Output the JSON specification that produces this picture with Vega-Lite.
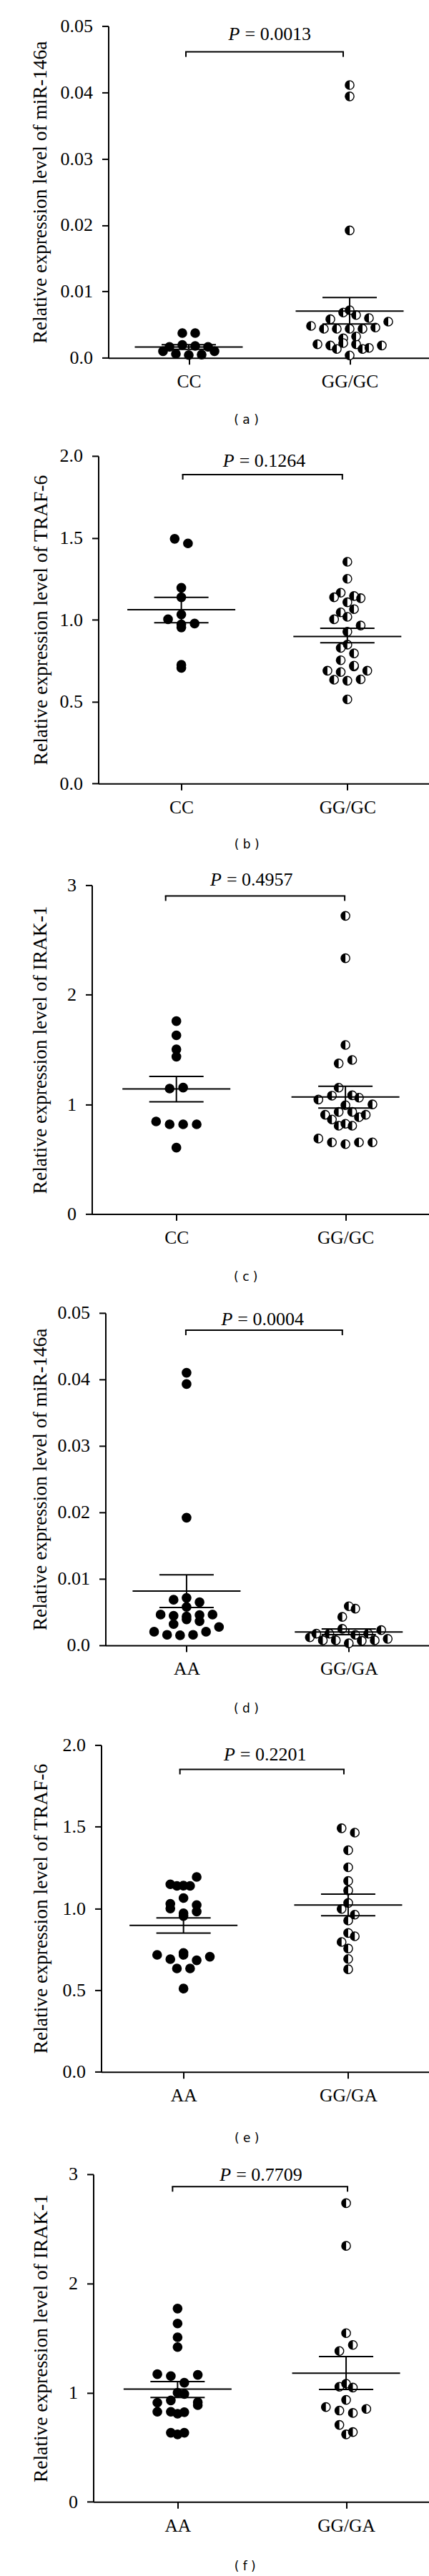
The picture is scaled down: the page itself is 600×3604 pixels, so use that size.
{
  "$schema": "https://vega.github.io/schema/vega-lite/v6.json",
  "background": "white",
  "padding": {"left": 21.5, "top": 23.4, "right": 5, "bottom": 2},
  "spacing": 28.5,
  "datasets": {
    "points": [
      {"panel":"a","genotype":"CC","value":0.00166},{"panel":"a","genotype":"CC","value":0.00100},{"panel":"a","genotype":"CC","value":0.00374},{"panel":"a","genotype":"CC","value":0.00061},{"panel":"a","genotype":"CC","value":0.00194},{"panel":"a","genotype":"CC","value":0.00374},{"panel":"a","genotype":"CC","value":0.00043},{"panel":"a","genotype":"CC","value":0.00180},{"panel":"a","genotype":"CC","value":0.00050},{"panel":"a","genotype":"CC","value":0.00100},{"panel":"a","genotype":"CC","value":0.00166},
      {"panel":"a","genotype":"GG/GC","value":0.00582},{"panel":"a","genotype":"GG/GC","value":0.00205},{"panel":"a","genotype":"GG/GC","value":0.00481},{"panel":"a","genotype":"GG/GC","value":0.00438},{"panel":"a","genotype":"GG/GC","value":0.00187},{"panel":"a","genotype":"GG/GC","value":0.0411},{"panel":"a","genotype":"GG/GC","value":0.00683},{"panel":"a","genotype":"GG/GC","value":0.00438},{"panel":"a","genotype":"GG/GC","value":0.00295},{"panel":"a","genotype":"GG/GC","value":0.00134},{"panel":"a","genotype":"GG/GC","value":0.0394},{"panel":"a","genotype":"GG/GC","value":0.0192},{"panel":"a","genotype":"GG/GC","value":0.00646},{"panel":"a","genotype":"GG/GC","value":0.00438},{"panel":"a","genotype":"GG/GC","value":0.00223},{"panel":"a","genotype":"GG/GC","value":0.00037},{"panel":"a","genotype":"GG/GC","value":0.00600},{"panel":"a","genotype":"GG/GC","value":0.00205},{"panel":"a","genotype":"GG/GC","value":0.00718},{"panel":"a","genotype":"GG/GC","value":0.00438},{"panel":"a","genotype":"GG/GC","value":0.00323},{"panel":"a","genotype":"GG/GC","value":0.00150},{"panel":"a","genotype":"GG/GC","value":0.00457},{"panel":"a","genotype":"GG/GC","value":0.00134},{"panel":"a","genotype":"GG/GC","value":0.00546},{"panel":"a","genotype":"GG/GC","value":0.00187},
      {"panel":"b","genotype":"CC","value":1.003},{"panel":"b","genotype":"CC","value":1.494},{"panel":"b","genotype":"CC","value":0.972},{"panel":"b","genotype":"CC","value":1.466},{"panel":"b","genotype":"CC","value":1.137},{"panel":"b","genotype":"CC","value":0.953},{"panel":"b","genotype":"CC","value":0.706},{"panel":"b","genotype":"CC","value":1.195},{"panel":"b","genotype":"CC","value":0.977},{"panel":"b","genotype":"CC","value":0.725},{"panel":"b","genotype":"CC","value":1.032},
      {"panel":"b","genotype":"GG/GC","value":0.689},{"panel":"b","genotype":"GG/GC","value":1.165},{"panel":"b","genotype":"GG/GC","value":0.681},{"panel":"b","genotype":"GG/GC","value":1.137},{"panel":"b","genotype":"GG/GC","value":1.045},{"panel":"b","genotype":"GG/GC","value":1.003},{"panel":"b","genotype":"GG/GC","value":0.848},{"panel":"b","genotype":"GG/GC","value":0.753},{"panel":"b","genotype":"GG/GC","value":0.634},{"panel":"b","genotype":"GG/GC","value":1.354},{"panel":"b","genotype":"GG/GC","value":1.250},{"panel":"b","genotype":"GG/GC","value":1.107},{"panel":"b","genotype":"GG/GC","value":1.018},{"panel":"b","genotype":"GG/GC","value":0.927},{"panel":"b","genotype":"GG/GC","value":0.828},{"panel":"b","genotype":"GG/GC","value":0.715},{"panel":"b","genotype":"GG/GC","value":0.628},{"panel":"b","genotype":"GG/GC","value":0.514},{"panel":"b","genotype":"GG/GC","value":1.132},{"panel":"b","genotype":"GG/GC","value":1.065},{"panel":"b","genotype":"GG/GC","value":0.965},{"panel":"b","genotype":"GG/GC","value":0.720},{"panel":"b","genotype":"GG/GC","value":0.636},{"panel":"b","genotype":"GG/GC","value":1.145},{"panel":"b","genotype":"GG/GC","value":0.795},{"panel":"b","genotype":"GG/GC","value":0.689},
      {"panel":"c","genotype":"CC","value":0.844},{"panel":"c","genotype":"CC","value":1.502},{"panel":"c","genotype":"CC","value":0.818},{"panel":"c","genotype":"CC","value":1.759},{"panel":"c","genotype":"CC","value":1.630},{"panel":"c","genotype":"CC","value":1.435},{"panel":"c","genotype":"CC","value":1.144},{"panel":"c","genotype":"CC","value":0.818},{"panel":"c","genotype":"CC","value":0.605},{"panel":"c","genotype":"CC","value":1.153},{"panel":"c","genotype":"CC","value":0.818},
      {"panel":"c","genotype":"GG/GC","value":0.905},{"panel":"c","genotype":"GG/GC","value":1.152},{"panel":"c","genotype":"GG/GC","value":1.044},{"panel":"c","genotype":"GG/GC","value":0.862},{"panel":"c","genotype":"GG/GC","value":0.688},{"panel":"c","genotype":"GG/GC","value":1.079},{"panel":"c","genotype":"GG/GC","value":0.992},{"panel":"c","genotype":"GG/GC","value":0.805},{"panel":"c","genotype":"GG/GC","value":0.653},{"panel":"c","genotype":"GG/GC","value":2.720},{"panel":"c","genotype":"GG/GC","value":2.333},{"panel":"c","genotype":"GG/GC","value":1.542},{"panel":"c","genotype":"GG/GC","value":1.373},{"panel":"c","genotype":"GG/GC","value":1.061},{"panel":"c","genotype":"GG/GC","value":0.931},{"panel":"c","genotype":"GG/GC","value":0.805},{"panel":"c","genotype":"GG/GC","value":0.637},{"panel":"c","genotype":"GG/GC","value":1.405},{"panel":"c","genotype":"GG/GC","value":1.083},{"panel":"c","genotype":"GG/GC","value":0.931},{"panel":"c","genotype":"GG/GC","value":0.823},{"panel":"c","genotype":"GG/GC","value":0.653},{"panel":"c","genotype":"GG/GC","value":1.000},{"panel":"c","genotype":"GG/GC","value":0.883},{"panel":"c","genotype":"GG/GC","value":0.653},{"panel":"c","genotype":"GG/GC","value":0.905},
      {"panel":"d","genotype":"AA","value":0.00462},{"panel":"d","genotype":"AA","value":0.00319},{"panel":"d","genotype":"AA","value":0.00444},{"panel":"d","genotype":"AA","value":0.00204},{"panel":"d","genotype":"AA","value":0.00685},{"panel":"d","genotype":"AA","value":0.00390},{"panel":"d","genotype":"AA","value":0.00158},{"panel":"d","genotype":"AA","value":0.0393},{"panel":"d","genotype":"AA","value":0.0192},{"panel":"d","genotype":"AA","value":0.00577},{"panel":"d","genotype":"AA","value":0.00362},{"panel":"d","genotype":"AA","value":0.00150},{"panel":"d","genotype":"AA","value":0.0410},{"panel":"d","genotype":"AA","value":0.00648},{"panel":"d","genotype":"AA","value":0.00433},{"panel":"d","genotype":"AA","value":0.00158},{"panel":"d","genotype":"AA","value":0.00713},{"panel":"d","genotype":"AA","value":0.00455},{"panel":"d","genotype":"AA","value":0.00204},{"panel":"d","genotype":"AA","value":0.00462},{"panel":"d","genotype":"AA","value":0.00276},
      {"panel":"d","genotype":"GG/GA","value":0.00120},{"panel":"d","genotype":"GG/GA","value":0.00175},{"panel":"d","genotype":"GG/GA","value":0.00075},{"panel":"d","genotype":"GG/GA","value":0.00427},{"panel":"d","genotype":"GG/GA","value":0.00175},{"panel":"d","genotype":"GG/GA","value":0.00075},{"panel":"d","genotype":"GG/GA","value":0.00552},{"panel":"d","genotype":"GG/GA","value":0.00247},{"panel":"d","genotype":"GG/GA","value":0.00158},{"panel":"d","genotype":"GG/GA","value":0.00030},{"panel":"d","genotype":"GG/GA","value":0.00588},{"panel":"d","genotype":"GG/GA","value":0.00175},{"panel":"d","genotype":"GG/GA","value":0.00068},{"panel":"d","genotype":"GG/GA","value":0.00075},{"panel":"d","genotype":"GG/GA","value":0.00229},{"panel":"d","genotype":"GG/GA","value":0.00097},
      {"panel":"e","genotype":"AA","value":1.029},{"panel":"e","genotype":"AA","value":0.716},{"panel":"e","genotype":"AA","value":1.148},{"panel":"e","genotype":"AA","value":1.000},{"panel":"e","genotype":"AA","value":0.690},{"panel":"e","genotype":"AA","value":1.140},{"panel":"e","genotype":"AA","value":0.971},{"panel":"e","genotype":"AA","value":0.633},{"panel":"e","genotype":"AA","value":1.193},{"panel":"e","genotype":"AA","value":1.064},{"panel":"e","genotype":"AA","value":0.954},{"panel":"e","genotype":"AA","value":0.716},{"panel":"e","genotype":"AA","value":0.633},{"panel":"e","genotype":"AA","value":0.510},{"panel":"e","genotype":"AA","value":1.138},{"panel":"e","genotype":"AA","value":0.981},{"panel":"e","genotype":"AA","value":0.728},{"panel":"e","genotype":"AA","value":0.683},{"panel":"e","genotype":"AA","value":1.138},{"panel":"e","genotype":"AA","value":1.021},{"panel":"e","genotype":"AA","value":0.705},
      {"panel":"e","genotype":"GG/GA","value":1.491},{"panel":"e","genotype":"GG/GA","value":0.997},{"panel":"e","genotype":"GG/GA","value":0.795},{"panel":"e","genotype":"GG/GA","value":1.464},{"panel":"e","genotype":"GG/GA","value":1.356},{"panel":"e","genotype":"GG/GA","value":1.252},{"panel":"e","genotype":"GG/GA","value":1.110},{"panel":"e","genotype":"GG/GA","value":0.962},{"panel":"e","genotype":"GG/GA","value":0.850},{"panel":"e","genotype":"GG/GA","value":0.755},{"panel":"e","genotype":"GG/GA","value":0.628},{"panel":"e","genotype":"GG/GA","value":1.168},{"panel":"e","genotype":"GG/GA","value":1.034},{"panel":"e","genotype":"GG/GA","value":0.926},{"panel":"e","genotype":"GG/GA","value":0.830},{"panel":"e","genotype":"GG/GA","value":0.691},
      {"panel":"f","genotype":"AA","value":0.908},{"panel":"f","genotype":"AA","value":1.169},{"panel":"f","genotype":"AA","value":0.825},{"panel":"f","genotype":"AA","value":1.152},{"panel":"f","genotype":"AA","value":0.999},{"panel":"f","genotype":"AA","value":0.825},{"panel":"f","genotype":"AA","value":0.633},{"panel":"f","genotype":"AA","value":1.770},{"panel":"f","genotype":"AA","value":1.633},{"panel":"f","genotype":"AA","value":1.417},{"panel":"f","genotype":"AA","value":1.091},{"panel":"f","genotype":"AA","value":0.929},{"panel":"f","genotype":"AA","value":0.807},{"panel":"f","genotype":"AA","value":0.618},{"panel":"f","genotype":"AA","value":1.507},{"panel":"f","genotype":"AA","value":1.163},{"panel":"f","genotype":"AA","value":0.988},{"panel":"f","genotype":"AA","value":0.821},{"panel":"f","genotype":"AA","value":0.633},{"panel":"f","genotype":"AA","value":0.886},{"panel":"f","genotype":"AA","value":0.912},
      {"panel":"f","genotype":"GG/GA","value":0.868},{"panel":"f","genotype":"GG/GA","value":1.054},{"panel":"f","genotype":"GG/GA","value":0.836},{"panel":"f","genotype":"GG/GA","value":0.705},{"panel":"f","genotype":"GG/GA","value":2.735},{"panel":"f","genotype":"GG/GA","value":2.344},{"panel":"f","genotype":"GG/GA","value":1.545},{"panel":"f","genotype":"GG/GA","value":1.381},{"panel":"f","genotype":"GG/GA","value":1.082},{"panel":"f","genotype":"GG/GA","value":0.934},{"panel":"f","genotype":"GG/GA","value":0.814},{"panel":"f","genotype":"GG/GA","value":0.618},{"panel":"f","genotype":"GG/GA","value":1.437},{"panel":"f","genotype":"GG/GA","value":1.047},{"panel":"f","genotype":"GG/GA","value":0.851},{"panel":"f","genotype":"GG/GA","value":0.639}
    ],
    "stats": [
      {"panel":"a","genotype":"CC","mean":0.00165,"lo":0.0013,"hi":0.0020},
      {"panel":"a","genotype":"GG/GC","mean":0.00705,"lo":0.0051,"hi":0.0091},
      {"panel":"b","genotype":"CC","mean":1.062,"lo":0.982,"hi":1.137},
      {"panel":"b","genotype":"GG/GC","mean":0.898,"lo":0.86,"hi":0.948},
      {"panel":"c","genotype":"CC","mean":1.140,"lo":1.023,"hi":1.255},
      {"panel":"c","genotype":"GG/GC","mean":1.068,"lo":0.966,"hi":1.165},
      {"panel":"d","genotype":"AA","mean":0.00815,"lo":0.00568,"hi":0.0106},
      {"panel":"d","genotype":"GG/GA","mean":0.00201,"lo":0.0016,"hi":0.00245},
      {"panel":"e","genotype":"AA","mean":0.897,"lo":0.85,"hi":0.942},
      {"panel":"e","genotype":"GG/GA","mean":1.021,"lo":0.956,"hi":1.088},
      {"panel":"f","genotype":"AA","mean":1.032,"lo":0.955,"hi":1.102},
      {"panel":"f","genotype":"GG/GA","mean":1.178,"lo":1.029,"hi":1.331}
    ],
    "tests": [
      {"panel":"a","p":"0.0013","level":0.0461},
      {"panel":"b","p":"0.1264","level":1.886},
      {"panel":"c","p":"0.4957","level":2.902},
      {"panel":"d","p":"0.0004","level":0.0474},
      {"panel":"e","p":"0.2201","level":1.851},
      {"panel":"f","p":"0.7709","level":2.886}
    ]
  },
  "vconcat": [
    {"spacing": 20, "hconcat": [
    {"width": 1, "height": 1, "data": {"values": []}, "mark": "point", "encoding": {}},
    {
      "width": 450, "height": 464.3,
      "title": {"text": "( a )", "orient": "bottom", "anchor": "start", "frame": "bounds", "dx": 284.5, "offset": 32.6},
      "layer": [
        {
          "data": {"name": "points"},
          "transform": [
            {"filter": "datum.panel === 'a'"},
            {"calculate": "datum.genotype === 'CC' || datum.genotype === 'AA' ? 1 : 2", "as": "group"},
            {"bin": {"step": 0.0014, "anchor": 0}, "field": "value", "as": "row"},
            {"window": [{"op": "row_number", "as": "slot"}, {"op": "count", "as": "n"}], "groupby": ["group", "row"], "frame": [null, null]},
            {"calculate": "datum.group + (datum.slot - (datum.n + 1) / 2) * 0.08", "as": "pos"}
          ],
          "encoding": {
            "x": {"field": "pos", "type": "quantitative", "scale": {"domain": [0.5, 2.5], "nice": false, "zero": false}, "axis": {"values": [1, 2], "labelExpr": "datum.value === 1 ? 'CC' : 'GG/GC'", "title": null}},
            "y": {"field": "value", "type": "quantitative", "scale": {"domain": [0, 0.05], "nice": false}, "axis": {"values": [0, 0.01, 0.02, 0.03, 0.04, 0.05], "labelExpr": "datum.value === 0 ? '0.0' : format(datum.value, '.2f')", "title": "Relative expression level of miR-146a", "titlePadding": 13.2}}
          },
          "layer": [
            {"mark": {"type": "circle", "size": 150, "stroke": "black", "strokeWidth": 1.4, "opacity": 1}, "encoding": {"fill": {"condition": {"test": "datum.group === 1", "value": "black"}, "value": "white"}}},
            {"transform": [{"filter": "datum.group === 2"}], "mark": {"type": "point", "shape": "M0,-1A1,1,0,0,0,0,1Z", "filled": true, "color": "black", "size": 150, "strokeWidth": 0, "opacity": 1}, "encoding": {}}
          ]
        },
        {
          "data": {"name": "stats"},
          "transform": [{"filter": "datum.panel === 'a'"}, {"calculate": "datum.genotype === 'CC' || datum.genotype === 'AA' ? 1 : 2", "as": "group"}],
          "layer": [
            {"mark": {"type": "tick", "orient": "horizontal", "size": 151, "thickness": 2, "color": "black", "opacity": 1}, "encoding": {"x": {"field": "group", "type": "quantitative", "scale": {"domain": [0.5, 2.5], "nice": false, "zero": false}}, "y": {"field": "mean", "type": "quantitative", "scale": {"domain": [0, 0.05], "nice": false}}}},
            {"mark": {"type": "tick", "orient": "horizontal", "size": 76, "thickness": 2, "color": "black", "opacity": 1}, "encoding": {"x": {"field": "group", "type": "quantitative", "scale": {"domain": [0.5, 2.5], "nice": false, "zero": false}}, "y": {"field": "hi", "type": "quantitative", "scale": {"domain": [0, 0.05], "nice": false}}}},
            {"mark": {"type": "tick", "orient": "horizontal", "size": 76, "thickness": 2, "color": "black", "opacity": 1}, "encoding": {"x": {"field": "group", "type": "quantitative", "scale": {"domain": [0.5, 2.5], "nice": false, "zero": false}}, "y": {"field": "lo", "type": "quantitative", "scale": {"domain": [0, 0.05], "nice": false}}}},
            {"mark": {"type": "rule", "strokeWidth": 2, "color": "black"}, "encoding": {"x": {"field": "group", "type": "quantitative", "scale": {"domain": [0.5, 2.5], "nice": false, "zero": false}}, "y": {"field": "lo", "type": "quantitative", "scale": {"domain": [0, 0.05], "nice": false}}, "y2": {"field": "hi"}}}
          ]
        },
        {
          "data": {"name": "tests"},
          "transform": [{"filter": "datum.panel === 'a'"}, {"calculate": "'= ' + datum.p", "as": "label"}],
          "encoding": {"y": {"field": "level", "type": "quantitative", "scale": {"domain": [0, 0.05], "nice": false}}},
          "layer": [
            {"mark": {"type": "rule", "strokeWidth": 2, "color": "black", "strokeCap": "square", "xOffset": -4, "x2Offset": -9}, "encoding": {"x": {"datum": 1, "type": "quantitative", "scale": {"domain": [0.5, 2.5], "nice": false, "zero": false}}, "x2": {"datum": 2}}},
            {"mark": {"type": "rule", "strokeWidth": 2, "color": "black", "xOffset": -4, "y2Offset": 7}, "encoding": {"x": {"datum": 1, "type": "quantitative", "scale": {"domain": [0.5, 2.5], "nice": false, "zero": false}}, "y2": {"field": "level"}}},
            {"mark": {"type": "rule", "strokeWidth": 2, "color": "black", "xOffset": -9, "y2Offset": 7}, "encoding": {"x": {"datum": 2, "type": "quantitative", "scale": {"domain": [0.5, 2.5], "nice": false, "zero": false}}, "y2": {"field": "level"}}},
            {"mark": {"type": "text", "text": "P", "font": "Liberation Serif", "fontStyle": "italic", "fontSize": 26, "color": "black", "align": "right", "baseline": "alphabetic", "dx": -41, "dy": -17}, "encoding": {"x": {"datum": 1.5, "type": "quantitative", "scale": {"domain": [0.5, 2.5], "nice": false, "zero": false}}}},
            {"mark": {"type": "text", "font": "Liberation Serif", "fontSize": 26, "color": "black", "align": "left", "baseline": "alphabetic", "dx": -34, "dy": -17}, "encoding": {"x": {"datum": 1.5, "type": "quantitative", "scale": {"domain": [0.5, 2.5], "nice": false, "zero": false}}, "text": {"field": "label"}}}
          ]
        }
      ]
    }]},
    {"spacing": 20, "hconcat": [
    {"width": 1, "height": 1, "data": {"values": []}, "mark": "point", "encoding": {}},
    {
      "width": 464.4, "height": 458.4,
      "title": {"text": "( b )", "orient": "bottom", "anchor": "start", "frame": "bounds", "dx": 284.5, "offset": 30.9},
      "layer": [
        {
          "data": {"name": "points"},
          "transform": [
            {"filter": "datum.panel === 'b'"},
            {"calculate": "datum.genotype === 'CC' || datum.genotype === 'AA' ? 1 : 2", "as": "group"},
            {"bin": {"step": 0.06, "anchor": 0}, "field": "value", "as": "row"},
            {"window": [{"op": "row_number", "as": "slot"}, {"op": "count", "as": "n"}], "groupby": ["group", "row"], "frame": [null, null]},
            {"calculate": "datum.group + (datum.slot - (datum.n + 1) / 2) * 0.08", "as": "pos"}
          ],
          "encoding": {
            "x": {"field": "pos", "type": "quantitative", "scale": {"domain": [0.5, 2.5], "nice": false, "zero": false}, "axis": {"values": [1, 2], "labelExpr": "datum.value === 1 ? 'CC' : 'GG/GC'", "title": null}},
            "y": {"field": "value", "type": "quantitative", "scale": {"domain": [0, 2], "nice": false}, "axis": {"values": [0, 0.5, 1, 1.5, 2], "labelExpr": "format(datum.value, '.1f')", "title": "Relative expression level of TRAF-6", "titlePadding": 11.8}}
          },
          "layer": [
            {"mark": {"type": "circle", "size": 150, "stroke": "black", "strokeWidth": 1.4, "opacity": 1}, "encoding": {"fill": {"condition": {"test": "datum.group === 1", "value": "black"}, "value": "white"}}},
            {"transform": [{"filter": "datum.group === 2"}], "mark": {"type": "point", "shape": "M0,-1A1,1,0,0,0,0,1Z", "filled": true, "color": "black", "size": 150, "strokeWidth": 0, "opacity": 1}, "encoding": {}}
          ]
        },
        {
          "data": {"name": "stats"},
          "transform": [{"filter": "datum.panel === 'b'"}, {"calculate": "datum.genotype === 'CC' || datum.genotype === 'AA' ? 1 : 2", "as": "group"}],
          "layer": [
            {"mark": {"type": "tick", "orient": "horizontal", "size": 151, "thickness": 2, "color": "black", "opacity": 1}, "encoding": {"x": {"field": "group", "type": "quantitative", "scale": {"domain": [0.5, 2.5], "nice": false, "zero": false}}, "y": {"field": "mean", "type": "quantitative", "scale": {"domain": [0, 2], "nice": false}}}},
            {"mark": {"type": "tick", "orient": "horizontal", "size": 76, "thickness": 2, "color": "black", "opacity": 1}, "encoding": {"x": {"field": "group", "type": "quantitative", "scale": {"domain": [0.5, 2.5], "nice": false, "zero": false}}, "y": {"field": "hi", "type": "quantitative", "scale": {"domain": [0, 2], "nice": false}}}},
            {"mark": {"type": "tick", "orient": "horizontal", "size": 76, "thickness": 2, "color": "black", "opacity": 1}, "encoding": {"x": {"field": "group", "type": "quantitative", "scale": {"domain": [0.5, 2.5], "nice": false, "zero": false}}, "y": {"field": "lo", "type": "quantitative", "scale": {"domain": [0, 2], "nice": false}}}},
            {"mark": {"type": "rule", "strokeWidth": 2, "color": "black"}, "encoding": {"x": {"field": "group", "type": "quantitative", "scale": {"domain": [0.5, 2.5], "nice": false, "zero": false}}, "y": {"field": "lo", "type": "quantitative", "scale": {"domain": [0, 2], "nice": false}}, "y2": {"field": "hi"}}}
          ]
        },
        {
          "data": {"name": "tests"},
          "transform": [{"filter": "datum.panel === 'b'"}, {"calculate": "'= ' + datum.p", "as": "label"}],
          "encoding": {"y": {"field": "level", "type": "quantitative", "scale": {"domain": [0, 2], "nice": false}}},
          "layer": [
            {"mark": {"type": "rule", "strokeWidth": 2, "color": "black", "strokeCap": "square", "xOffset": 2, "x2Offset": -7}, "encoding": {"x": {"datum": 1, "type": "quantitative", "scale": {"domain": [0.5, 2.5], "nice": false, "zero": false}}, "x2": {"datum": 2}}},
            {"mark": {"type": "rule", "strokeWidth": 2, "color": "black", "xOffset": 2, "y2Offset": 7}, "encoding": {"x": {"datum": 1, "type": "quantitative", "scale": {"domain": [0.5, 2.5], "nice": false, "zero": false}}, "y2": {"field": "level"}}},
            {"mark": {"type": "rule", "strokeWidth": 2, "color": "black", "xOffset": -7, "y2Offset": 7}, "encoding": {"x": {"datum": 2, "type": "quantitative", "scale": {"domain": [0.5, 2.5], "nice": false, "zero": false}}, "y2": {"field": "level"}}},
            {"mark": {"type": "text", "text": "P", "font": "Liberation Serif", "fontStyle": "italic", "fontSize": 26, "color": "black", "align": "right", "baseline": "alphabetic", "dx": -42, "dy": -11}, "encoding": {"x": {"datum": 1.5, "type": "quantitative", "scale": {"domain": [0.5, 2.5], "nice": false, "zero": false}}}},
            {"mark": {"type": "text", "font": "Liberation Serif", "fontSize": 26, "color": "black", "align": "left", "baseline": "alphabetic", "dx": -35, "dy": -11}, "encoding": {"x": {"datum": 1.5, "type": "quantitative", "scale": {"domain": [0.5, 2.5], "nice": false, "zero": false}}, "text": {"field": "label"}}}
          ]
        }
      ]
    }]},
    {"spacing": 20, "hconcat": [
    {"width": 1, "height": 1, "data": {"values": []}, "mark": "point", "encoding": {}},
    {
      "width": 472.8, "height": 460,
      "title": {"text": "( c )", "orient": "bottom", "anchor": "start", "frame": "bounds", "dx": 284.5, "offset": 33.9},
      "layer": [
        {
          "data": {"name": "points"},
          "transform": [
            {"filter": "datum.panel === 'c'"},
            {"calculate": "datum.genotype === 'CC' || datum.genotype === 'AA' ? 1 : 2", "as": "group"},
            {"bin": {"step": 0.09, "anchor": 0}, "field": "value", "as": "row"},
            {"window": [{"op": "row_number", "as": "slot"}, {"op": "count", "as": "n"}], "groupby": ["group", "row"], "frame": [null, null]},
            {"calculate": "datum.group + (datum.slot - (datum.n + 1) / 2) * 0.08", "as": "pos"}
          ],
          "encoding": {
            "x": {"field": "pos", "type": "quantitative", "scale": {"domain": [0.5, 2.5], "nice": false, "zero": false}, "axis": {"values": [1, 2], "labelExpr": "datum.value === 1 ? 'CC' : 'GG/GC'", "title": null}},
            "y": {"field": "value", "type": "quantitative", "scale": {"domain": [0, 3], "nice": false}, "axis": {"values": [0, 1, 2, 3], "labelExpr": "format(datum.value, 'd')", "title": "Relative expression level of IRAK-1", "titlePadding": 22.9}}
          },
          "layer": [
            {"mark": {"type": "circle", "size": 150, "stroke": "black", "strokeWidth": 1.4, "opacity": 1}, "encoding": {"fill": {"condition": {"test": "datum.group === 1", "value": "black"}, "value": "white"}}},
            {"transform": [{"filter": "datum.group === 2"}], "mark": {"type": "point", "shape": "M0,-1A1,1,0,0,0,0,1Z", "filled": true, "color": "black", "size": 150, "strokeWidth": 0, "opacity": 1}, "encoding": {}}
          ]
        },
        {
          "data": {"name": "stats"},
          "transform": [{"filter": "datum.panel === 'c'"}, {"calculate": "datum.genotype === 'CC' || datum.genotype === 'AA' ? 1 : 2", "as": "group"}],
          "layer": [
            {"mark": {"type": "tick", "orient": "horizontal", "size": 151, "thickness": 2, "color": "black", "opacity": 1}, "encoding": {"x": {"field": "group", "type": "quantitative", "scale": {"domain": [0.5, 2.5], "nice": false, "zero": false}}, "y": {"field": "mean", "type": "quantitative", "scale": {"domain": [0, 3], "nice": false}}}},
            {"mark": {"type": "tick", "orient": "horizontal", "size": 76, "thickness": 2, "color": "black", "opacity": 1}, "encoding": {"x": {"field": "group", "type": "quantitative", "scale": {"domain": [0.5, 2.5], "nice": false, "zero": false}}, "y": {"field": "hi", "type": "quantitative", "scale": {"domain": [0, 3], "nice": false}}}},
            {"mark": {"type": "tick", "orient": "horizontal", "size": 76, "thickness": 2, "color": "black", "opacity": 1}, "encoding": {"x": {"field": "group", "type": "quantitative", "scale": {"domain": [0.5, 2.5], "nice": false, "zero": false}}, "y": {"field": "lo", "type": "quantitative", "scale": {"domain": [0, 3], "nice": false}}}},
            {"mark": {"type": "rule", "strokeWidth": 2, "color": "black"}, "encoding": {"x": {"field": "group", "type": "quantitative", "scale": {"domain": [0.5, 2.5], "nice": false, "zero": false}}, "y": {"field": "lo", "type": "quantitative", "scale": {"domain": [0, 3], "nice": false}}, "y2": {"field": "hi"}}}
          ]
        },
        {
          "data": {"name": "tests"},
          "transform": [{"filter": "datum.panel === 'c'"}, {"calculate": "'= ' + datum.p", "as": "label"}],
          "encoding": {"y": {"field": "level", "type": "quantitative", "scale": {"domain": [0, 3], "nice": false}}},
          "layer": [
            {"mark": {"type": "rule", "strokeWidth": 2, "color": "black", "strokeCap": "square", "xOffset": -15, "x2Offset": -1}, "encoding": {"x": {"datum": 1, "type": "quantitative", "scale": {"domain": [0.5, 2.5], "nice": false, "zero": false}}, "x2": {"datum": 2}}},
            {"mark": {"type": "rule", "strokeWidth": 2, "color": "black", "xOffset": -15, "y2Offset": 7}, "encoding": {"x": {"datum": 1, "type": "quantitative", "scale": {"domain": [0.5, 2.5], "nice": false, "zero": false}}, "y2": {"field": "level"}}},
            {"mark": {"type": "rule", "strokeWidth": 2, "color": "black", "xOffset": -1, "y2Offset": 7}, "encoding": {"x": {"datum": 2, "type": "quantitative", "scale": {"domain": [0.5, 2.5], "nice": false, "zero": false}}, "y2": {"field": "level"}}},
            {"mark": {"type": "text", "text": "P", "font": "Liberation Serif", "fontStyle": "italic", "fontSize": 26, "color": "black", "align": "right", "baseline": "alphabetic", "dx": -55, "dy": -14}, "encoding": {"x": {"datum": 1.5, "type": "quantitative", "scale": {"domain": [0.5, 2.5], "nice": false, "zero": false}}}},
            {"mark": {"type": "text", "font": "Liberation Serif", "fontSize": 26, "color": "black", "align": "left", "baseline": "alphabetic", "dx": -48, "dy": -14}, "encoding": {"x": {"datum": 1.5, "type": "quantitative", "scale": {"domain": [0.5, 2.5], "nice": false, "zero": false}}, "text": {"field": "label"}}}
          ]
        }
      ]
    }]},
    {"spacing": 20, "hconcat": [
    {"width": 1, "height": 1, "data": {"values": []}, "mark": "point", "encoding": {}},
    {
      "width": 453.7, "height": 465,
      "title": {"text": "( d )", "orient": "bottom", "anchor": "start", "frame": "bounds", "dx": 284.5, "offset": 34.9},
      "layer": [
        {
          "data": {"name": "points"},
          "transform": [
            {"filter": "datum.panel === 'd'"},
            {"calculate": "datum.genotype === 'CC' || datum.genotype === 'AA' ? 1 : 2", "as": "group"},
            {"bin": {"step": 0.0014, "anchor": 0}, "field": "value", "as": "row"},
            {"window": [{"op": "row_number", "as": "slot"}, {"op": "count", "as": "n"}], "groupby": ["group", "row"], "frame": [null, null]},
            {"calculate": "datum.group + (datum.slot - (datum.n + 1) / 2) * 0.08", "as": "pos"}
          ],
          "encoding": {
            "x": {"field": "pos", "type": "quantitative", "scale": {"domain": [0.5, 2.5], "nice": false, "zero": false}, "axis": {"values": [1, 2], "labelExpr": "datum.value === 1 ? 'AA' : 'GG/GA'", "title": null}},
            "y": {"field": "value", "type": "quantitative", "scale": {"domain": [0, 0.05], "nice": false}, "axis": {"values": [0, 0.01, 0.02, 0.03, 0.04, 0.05], "labelExpr": "datum.value === 0 ? '0.0' : format(datum.value, '.2f')", "title": "Relative expression level of miR-146a", "titlePadding": 9.5}}
          },
          "layer": [
            {"mark": {"type": "circle", "size": 150, "stroke": "black", "strokeWidth": 1.4, "opacity": 1}, "encoding": {"fill": {"condition": {"test": "datum.group === 1", "value": "black"}, "value": "white"}}},
            {"transform": [{"filter": "datum.group === 2"}], "mark": {"type": "point", "shape": "M0,-1A1,1,0,0,0,0,1Z", "filled": true, "color": "black", "size": 150, "strokeWidth": 0, "opacity": 1}, "encoding": {}}
          ]
        },
        {
          "data": {"name": "stats"},
          "transform": [{"filter": "datum.panel === 'd'"}, {"calculate": "datum.genotype === 'CC' || datum.genotype === 'AA' ? 1 : 2", "as": "group"}],
          "layer": [
            {"mark": {"type": "tick", "orient": "horizontal", "size": 151, "thickness": 2, "color": "black", "opacity": 1}, "encoding": {"x": {"field": "group", "type": "quantitative", "scale": {"domain": [0.5, 2.5], "nice": false, "zero": false}}, "y": {"field": "mean", "type": "quantitative", "scale": {"domain": [0, 0.05], "nice": false}}}},
            {"mark": {"type": "tick", "orient": "horizontal", "size": 76, "thickness": 2, "color": "black", "opacity": 1}, "encoding": {"x": {"field": "group", "type": "quantitative", "scale": {"domain": [0.5, 2.5], "nice": false, "zero": false}}, "y": {"field": "hi", "type": "quantitative", "scale": {"domain": [0, 0.05], "nice": false}}}},
            {"mark": {"type": "tick", "orient": "horizontal", "size": 76, "thickness": 2, "color": "black", "opacity": 1}, "encoding": {"x": {"field": "group", "type": "quantitative", "scale": {"domain": [0.5, 2.5], "nice": false, "zero": false}}, "y": {"field": "lo", "type": "quantitative", "scale": {"domain": [0, 0.05], "nice": false}}}},
            {"mark": {"type": "rule", "strokeWidth": 2, "color": "black"}, "encoding": {"x": {"field": "group", "type": "quantitative", "scale": {"domain": [0.5, 2.5], "nice": false, "zero": false}}, "y": {"field": "lo", "type": "quantitative", "scale": {"domain": [0, 0.05], "nice": false}}, "y2": {"field": "hi"}}}
          ]
        },
        {
          "data": {"name": "tests"},
          "transform": [{"filter": "datum.panel === 'd'"}, {"calculate": "'= ' + datum.p", "as": "label"}],
          "encoding": {"y": {"field": "level", "type": "quantitative", "scale": {"domain": [0, 0.05], "nice": false}}},
          "layer": [
            {"mark": {"type": "rule", "strokeWidth": 2, "color": "black", "strokeCap": "square", "xOffset": -1, "x2Offset": -9}, "encoding": {"x": {"datum": 1, "type": "quantitative", "scale": {"domain": [0.5, 2.5], "nice": false, "zero": false}}, "x2": {"datum": 2}}},
            {"mark": {"type": "rule", "strokeWidth": 2, "color": "black", "xOffset": -1, "y2Offset": 7}, "encoding": {"x": {"datum": 1, "type": "quantitative", "scale": {"domain": [0.5, 2.5], "nice": false, "zero": false}}, "y2": {"field": "level"}}},
            {"mark": {"type": "rule", "strokeWidth": 2, "color": "black", "xOffset": -9, "y2Offset": 7}, "encoding": {"x": {"datum": 2, "type": "quantitative", "scale": {"domain": [0.5, 2.5], "nice": false, "zero": false}}, "y2": {"field": "level"}}},
            {"mark": {"type": "text", "text": "P", "font": "Liberation Serif", "fontStyle": "italic", "fontSize": 26, "color": "black", "align": "right", "baseline": "alphabetic", "dx": -49, "dy": -7}, "encoding": {"x": {"datum": 1.5, "type": "quantitative", "scale": {"domain": [0.5, 2.5], "nice": false, "zero": false}}}},
            {"mark": {"type": "text", "font": "Liberation Serif", "fontSize": 26, "color": "black", "align": "left", "baseline": "alphabetic", "dx": -42, "dy": -7}, "encoding": {"x": {"datum": 1.5, "type": "quantitative", "scale": {"domain": [0.5, 2.5], "nice": false, "zero": false}}, "text": {"field": "label"}}}
          ]
        }
      ]
    }]},
    {"spacing": 20, "hconcat": [
    {"width": 1, "height": 1, "data": {"values": []}, "mark": "point", "encoding": {}},
    {
      "width": 460.6, "height": 457.4,
      "title": {"text": "( e )", "orient": "bottom", "anchor": "start", "frame": "bounds", "dx": 284.5, "offset": 38.7},
      "layer": [
        {
          "data": {"name": "points"},
          "transform": [
            {"filter": "datum.panel === 'e'"},
            {"calculate": "datum.genotype === 'CC' || datum.genotype === 'AA' ? 1 : 2", "as": "group"},
            {"bin": {"step": 0.06, "anchor": 0}, "field": "value", "as": "row"},
            {"window": [{"op": "row_number", "as": "slot"}, {"op": "count", "as": "n"}], "groupby": ["group", "row"], "frame": [null, null]},
            {"calculate": "datum.group + (datum.slot - (datum.n + 1) / 2) * 0.08", "as": "pos"}
          ],
          "encoding": {
            "x": {"field": "pos", "type": "quantitative", "scale": {"domain": [0.5, 2.5], "nice": false, "zero": false}, "axis": {"values": [1, 2], "labelExpr": "datum.value === 1 ? 'AA' : 'GG/GA'", "title": null}},
            "y": {"field": "value", "type": "quantitative", "scale": {"domain": [0, 2], "nice": false}, "axis": {"values": [0, 0.5, 1, 1.5, 2], "labelExpr": "format(datum.value, '.1f')", "title": "Relative expression level of TRAF-6", "titlePadding": 15.6}}
          },
          "layer": [
            {"mark": {"type": "circle", "size": 150, "stroke": "black", "strokeWidth": 1.4, "opacity": 1}, "encoding": {"fill": {"condition": {"test": "datum.group === 1", "value": "black"}, "value": "white"}}},
            {"transform": [{"filter": "datum.group === 2"}], "mark": {"type": "point", "shape": "M0,-1A1,1,0,0,0,0,1Z", "filled": true, "color": "black", "size": 150, "strokeWidth": 0, "opacity": 1}, "encoding": {}}
          ]
        },
        {
          "data": {"name": "stats"},
          "transform": [{"filter": "datum.panel === 'e'"}, {"calculate": "datum.genotype === 'CC' || datum.genotype === 'AA' ? 1 : 2", "as": "group"}],
          "layer": [
            {"mark": {"type": "tick", "orient": "horizontal", "size": 151, "thickness": 2, "color": "black", "opacity": 1}, "encoding": {"x": {"field": "group", "type": "quantitative", "scale": {"domain": [0.5, 2.5], "nice": false, "zero": false}}, "y": {"field": "mean", "type": "quantitative", "scale": {"domain": [0, 2], "nice": false}}}},
            {"mark": {"type": "tick", "orient": "horizontal", "size": 76, "thickness": 2, "color": "black", "opacity": 1}, "encoding": {"x": {"field": "group", "type": "quantitative", "scale": {"domain": [0.5, 2.5], "nice": false, "zero": false}}, "y": {"field": "hi", "type": "quantitative", "scale": {"domain": [0, 2], "nice": false}}}},
            {"mark": {"type": "tick", "orient": "horizontal", "size": 76, "thickness": 2, "color": "black", "opacity": 1}, "encoding": {"x": {"field": "group", "type": "quantitative", "scale": {"domain": [0.5, 2.5], "nice": false, "zero": false}}, "y": {"field": "lo", "type": "quantitative", "scale": {"domain": [0, 2], "nice": false}}}},
            {"mark": {"type": "rule", "strokeWidth": 2, "color": "black"}, "encoding": {"x": {"field": "group", "type": "quantitative", "scale": {"domain": [0.5, 2.5], "nice": false, "zero": false}}, "y": {"field": "lo", "type": "quantitative", "scale": {"domain": [0, 2], "nice": false}}, "y2": {"field": "hi"}}}
          ]
        },
        {
          "data": {"name": "tests"},
          "transform": [{"filter": "datum.panel === 'e'"}, {"calculate": "'= ' + datum.p", "as": "label"}],
          "encoding": {"y": {"field": "level", "type": "quantitative", "scale": {"domain": [0, 2], "nice": false}}},
          "layer": [
            {"mark": {"type": "rule", "strokeWidth": 2, "color": "black", "strokeCap": "square", "xOffset": -5, "x2Offset": -6}, "encoding": {"x": {"datum": 1, "type": "quantitative", "scale": {"domain": [0.5, 2.5], "nice": false, "zero": false}}, "x2": {"datum": 2}}},
            {"mark": {"type": "rule", "strokeWidth": 2, "color": "black", "xOffset": -5, "y2Offset": 7}, "encoding": {"x": {"datum": 1, "type": "quantitative", "scale": {"domain": [0.5, 2.5], "nice": false, "zero": false}}, "y2": {"field": "level"}}},
            {"mark": {"type": "rule", "strokeWidth": 2, "color": "black", "xOffset": -6, "y2Offset": 7}, "encoding": {"x": {"datum": 2, "type": "quantitative", "scale": {"domain": [0.5, 2.5], "nice": false, "zero": false}}, "y2": {"field": "level"}}},
            {"mark": {"type": "text", "text": "P", "font": "Liberation Serif", "fontStyle": "italic", "fontSize": 26, "color": "black", "align": "right", "baseline": "alphabetic", "dx": -43, "dy": -12}, "encoding": {"x": {"datum": 1.5, "type": "quantitative", "scale": {"domain": [0.5, 2.5], "nice": false, "zero": false}}}},
            {"mark": {"type": "text", "font": "Liberation Serif", "fontSize": 26, "color": "black", "align": "left", "baseline": "alphabetic", "dx": -36, "dy": -12}, "encoding": {"x": {"datum": 1.5, "type": "quantitative", "scale": {"domain": [0.5, 2.5], "nice": false, "zero": false}}, "text": {"field": "label"}}}
          ]
        }
      ]
    }]},
    {"spacing": 20, "hconcat": [
    {"width": 1, "height": 1, "data": {"values": []}, "mark": "point", "encoding": {}},
    {
      "width": 471.4, "height": 458.4,
      "title": {"text": "( f )", "orient": "bottom", "anchor": "start", "frame": "bounds", "dx": 284.5, "offset": 36},
      "layer": [
        {
          "data": {"name": "points"},
          "transform": [
            {"filter": "datum.panel === 'f'"},
            {"calculate": "datum.genotype === 'CC' || datum.genotype === 'AA' ? 1 : 2", "as": "group"},
            {"bin": {"step": 0.09, "anchor": 0}, "field": "value", "as": "row"},
            {"window": [{"op": "row_number", "as": "slot"}, {"op": "count", "as": "n"}], "groupby": ["group", "row"], "frame": [null, null]},
            {"calculate": "datum.group + (datum.slot - (datum.n + 1) / 2) * 0.08", "as": "pos"}
          ],
          "encoding": {
            "x": {"field": "pos", "type": "quantitative", "scale": {"domain": [0.5, 2.5], "nice": false, "zero": false}, "axis": {"values": [1, 2], "labelExpr": "datum.value === 1 ? 'AA' : 'GG/GA'", "title": null}},
            "y": {"field": "value", "type": "quantitative", "scale": {"domain": [0, 3], "nice": false}, "axis": {"values": [0, 1, 2, 3], "labelExpr": "format(datum.value, 'd')", "title": "Relative expression level of IRAK-1", "titlePadding": 24.3}}
          },
          "layer": [
            {"mark": {"type": "circle", "size": 150, "stroke": "black", "strokeWidth": 1.4, "opacity": 1}, "encoding": {"fill": {"condition": {"test": "datum.group === 1", "value": "black"}, "value": "white"}}},
            {"transform": [{"filter": "datum.group === 2"}], "mark": {"type": "point", "shape": "M0,-1A1,1,0,0,0,0,1Z", "filled": true, "color": "black", "size": 150, "strokeWidth": 0, "opacity": 1}, "encoding": {}}
          ]
        },
        {
          "data": {"name": "stats"},
          "transform": [{"filter": "datum.panel === 'f'"}, {"calculate": "datum.genotype === 'CC' || datum.genotype === 'AA' ? 1 : 2", "as": "group"}],
          "layer": [
            {"mark": {"type": "tick", "orient": "horizontal", "size": 151, "thickness": 2, "color": "black", "opacity": 1}, "encoding": {"x": {"field": "group", "type": "quantitative", "scale": {"domain": [0.5, 2.5], "nice": false, "zero": false}}, "y": {"field": "mean", "type": "quantitative", "scale": {"domain": [0, 3], "nice": false}}}},
            {"mark": {"type": "tick", "orient": "horizontal", "size": 76, "thickness": 2, "color": "black", "opacity": 1}, "encoding": {"x": {"field": "group", "type": "quantitative", "scale": {"domain": [0.5, 2.5], "nice": false, "zero": false}}, "y": {"field": "hi", "type": "quantitative", "scale": {"domain": [0, 3], "nice": false}}}},
            {"mark": {"type": "tick", "orient": "horizontal", "size": 76, "thickness": 2, "color": "black", "opacity": 1}, "encoding": {"x": {"field": "group", "type": "quantitative", "scale": {"domain": [0.5, 2.5], "nice": false, "zero": false}}, "y": {"field": "lo", "type": "quantitative", "scale": {"domain": [0, 3], "nice": false}}}},
            {"mark": {"type": "rule", "strokeWidth": 2, "color": "black"}, "encoding": {"x": {"field": "group", "type": "quantitative", "scale": {"domain": [0.5, 2.5], "nice": false, "zero": false}}, "y": {"field": "lo", "type": "quantitative", "scale": {"domain": [0, 3], "nice": false}}, "y2": {"field": "hi"}}}
          ]
        },
        {
          "data": {"name": "tests"},
          "transform": [{"filter": "datum.panel === 'f'"}, {"calculate": "'= ' + datum.p", "as": "label"}],
          "encoding": {"y": {"field": "level", "type": "quantitative", "scale": {"domain": [0, 3], "nice": false}}},
          "layer": [
            {"mark": {"type": "rule", "strokeWidth": 2, "color": "black", "strokeCap": "square", "xOffset": -7, "x2Offset": 2}, "encoding": {"x": {"datum": 1, "type": "quantitative", "scale": {"domain": [0.5, 2.5], "nice": false, "zero": false}}, "x2": {"datum": 2}}},
            {"mark": {"type": "rule", "strokeWidth": 2, "color": "black", "xOffset": -7, "y2Offset": 7}, "encoding": {"x": {"datum": 1, "type": "quantitative", "scale": {"domain": [0.5, 2.5], "nice": false, "zero": false}}, "y2": {"field": "level"}}},
            {"mark": {"type": "rule", "strokeWidth": 2, "color": "black", "xOffset": 2, "y2Offset": 7}, "encoding": {"x": {"datum": 2, "type": "quantitative", "scale": {"domain": [0.5, 2.5], "nice": false, "zero": false}}, "y2": {"field": "level"}}},
            {"mark": {"type": "text", "text": "P", "font": "Liberation Serif", "fontStyle": "italic", "fontSize": 26, "color": "black", "align": "right", "baseline": "alphabetic", "dx": -43, "dy": -8}, "encoding": {"x": {"datum": 1.5, "type": "quantitative", "scale": {"domain": [0.5, 2.5], "nice": false, "zero": false}}}},
            {"mark": {"type": "text", "font": "Liberation Serif", "fontSize": 26, "color": "black", "align": "left", "baseline": "alphabetic", "dx": -36, "dy": -8}, "encoding": {"x": {"datum": 1.5, "type": "quantitative", "scale": {"domain": [0.5, 2.5], "nice": false, "zero": false}}, "text": {"field": "label"}}}
          ]
        }
      ]
    }]}
  ],
  "config": {
    "view": {"stroke": null},
    "axis": {"domainColor": "black", "domainWidth": 2, "tickColor": "black", "tickWidth": 2, "tickSize": 9, "labelColor": "black", "labelFont": "Liberation Serif", "labelFontSize": 26, "titleFont": "Liberation Serif", "titleFontSize": 27.5, "titleFontWeight": "normal", "titleColor": "black", "grid": false, "labelOverlap": false, "labelFlush": false, "labelBound": false},
    "axisY": {"labelPadding": 13},
    "axisX": {"labelPadding": 12, "labelFontSize": 25.5},
    "title": {"font": "DejaVu Sans", "fontSize": 17, "fontWeight": "normal", "color": "black"}
  }
}
